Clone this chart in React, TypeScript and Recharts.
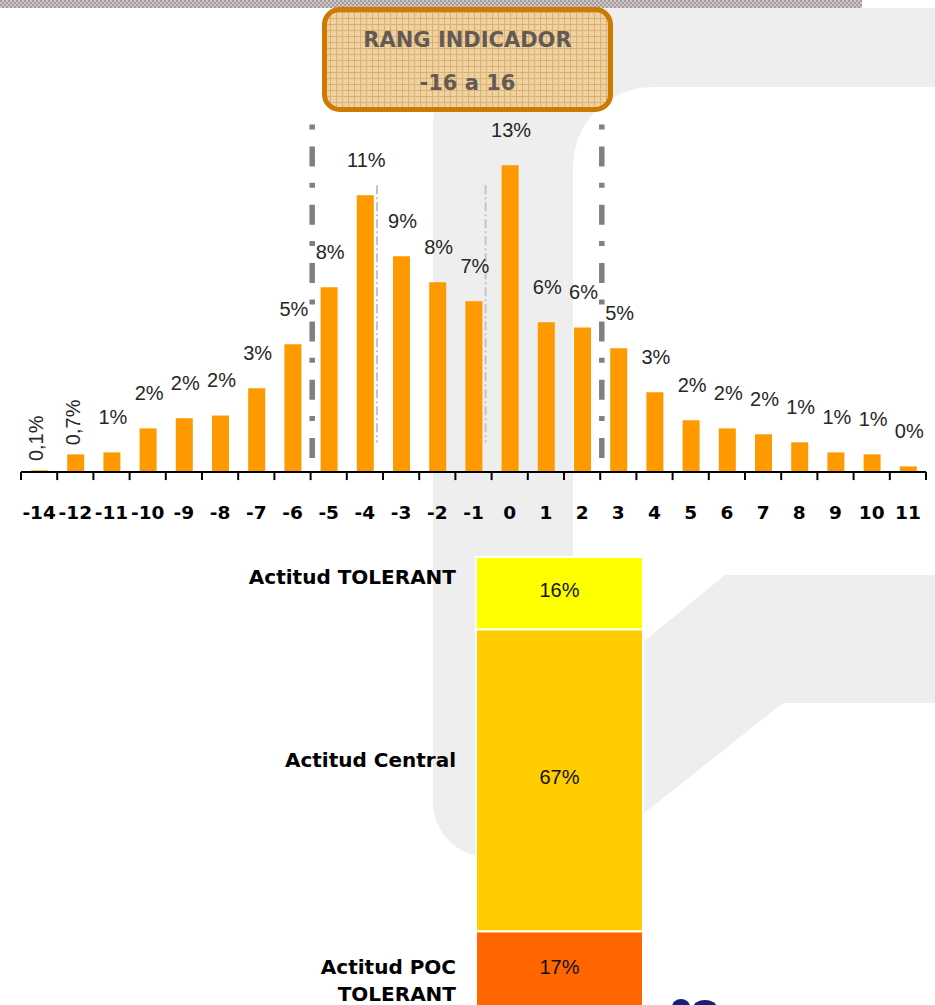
import React from "react";
import { BarChart, Bar, XAxis, YAxis, ReferenceLine, LabelList } from "recharts";

// ---------- data ----------
const categories = ["-14", "-12", "-11", "-10", "-9", "-8", "-7", "-6", "-5", "-4", "-3", "-2", "-1", "0", "1", "2", "3", "4", "5", "6", "7", "8", "9", "10", "11"];
const shares = [0.07, 0.72, 0.8, 1.78, 2.19, 2.31, 3.42, 5.21, 7.54, 11.29, 8.8, 7.74, 6.97, 12.52, 6.11, 5.9, 5.05, 3.25, 2.11, 1.78, 1.54, 1.21, 0.8, 0.72, 0.23];
const shareLabels = ["0,1%", "0,7%", "1%", "2%", "2%", "2%", "3%", "5%", "8%", "11%", "9%", "8%", "7%", "13%", "6%", "6%", "5%", "3%", "2%", "2%", "2%", "1%", "1%", "1%", "0%"];

const attitudeKeys = ["poc", "central", "tolerant"];
const attitudeNames = [["Actitud POC", "TOLERANT"], ["Actitud Central"], ["Actitud TOLERANT"]];
const attitudeValues = [17, 67, 16];
const attitudeLabels = ["17%", "67%", "16%"];

// range markers: thick lines at the start of these categories, thin lines near the end of these
const rangeStarts = ["-5", "3"];
const innerEnds = ["-4", "-1"];

// ---------- derived tables ----------
const distData = categories.map((c, i) => ({ cat: c, v: shares[i], label: shareLabels[i] }));
const attitudeRow: Record<string, any> = { name: "Actitud" };
attitudeKeys.forEach((k, i) => {
  attitudeRow[k] = attitudeValues[i];
  attitudeRow[k + "Label"] = attitudeLabels[i];
});
const attitudeData = [attitudeRow];

// styles
const ORANGE = "#FF9900";
const attitudeColors = ["#FF6600", "#FFCC00", "#FFFF00"];
const attitudeNameDy = [36, 131, 20];
const VALUE_FONT = "'Liberation Sans', Arial, sans-serif";
const BOLD_FONT = "'DejaVu Sans', sans-serif";

const box = (p: any) => {
  const vb = p.viewBox || {};
  return {
    x: p.x ?? vb.x,
    y: p.y ?? vb.y,
    width: p.width ?? vb.width,
    height: p.height ?? vb.height,
  };
};

const ShareLabel = (p: any) => {
  const { x, y, width } = box(p);
  const cx = x + width / 2;
  const value = String(p.value);
  if (value.includes(",")) {
    const cy = y - 32;
    return (
      <text x={cx - 3} y={cy} textAnchor="middle" dominantBaseline="central" fontFamily={VALUE_FONT} fontSize={20} fill="#262626" transform={`rotate(-90 ${cx - 3} ${cy})`}>
        {value}
      </text>
    );
  }
  return (
    <text x={cx + 1} y={y - 35} textAnchor="middle" dominantBaseline="central" fontFamily={VALUE_FONT} fontSize={20} fill="#262626">
      {value}
    </text>
  );
};

const CatTick = (p: any) => (
  <text x={p.x} y={p.y + 40} textAnchor="middle" dominantBaseline="central" fontFamily={BOLD_FONT} fontWeight="bold" fontSize={18.5} fill="#000">
    {p.payload.value}
  </text>
);

// shifted line used for the thin inner markers
const ShiftedLine = (dx: number) => (p: any) => (
  <line x1={p.x1 + dx} y1={p.y1} x2={p.x2 + dx} y2={p.y2} stroke={p.stroke} strokeWidth={p.strokeWidth} strokeDasharray={p.strokeDasharray} />
);

const makeNameLabel = (idx: number) => (p: any) => {
  const { x, y } = box(p);
  const lines = attitudeNames[idx];
  return (
    <text x={x - 20} y={y + attitudeNameDy[idx]} textAnchor="end" dominantBaseline="central" fontFamily={BOLD_FONT} fontWeight="bold" fontSize={20} fill="#000">
      {lines.map((l, i) => (
        <tspan key={i} x={x - 20} dy={i === 0 ? 0 : 27}>
          {l}
        </tspan>
      ))}
    </text>
  );
};

export default function App() {
  return (
    <div style={{ position: "absolute", left: 0, top: 0, width: 935, height: 1005, overflow: "hidden", background: "#fff" }}>
      {/* background watermark */}
      <svg width={935} height={1005} style={{ position: "absolute", left: 0, top: 0 }}>
        <path d="M 433 127 A 120 120 0 0 1 553 8 L 935 8 L 935 87 L 653 87 A 80 80 0 0 0 573 167 L 573 857 L 488 857 A 55 55 0 0 1 433 802 Z" fill="#eeeeee" />
        <path d="M 643 642 L 725 575 L 935 575 L 935 703 L 783 703 L 643 814 Z" fill="#eeeeee" />
      </svg>

      {/* distribution chart */}
      <div style={{ position: "absolute", left: 0, top: 0 }}>
        <BarChart width={935} height={540} data={distData} margin={{ top: 124, right: 9, bottom: 28, left: 21 }}>
          <YAxis hide domain={[0, 14.2]} allowDataOverflow />
          <XAxis
            dataKey="cat"
            interval={0}
            height={40}
            axisLine={{ stroke: "#000", strokeWidth: 2 }}
            tickLine={false}
            tickSize={0}
            tickMargin={0}
            tick={<CatTick />}
          />
          {/* tick marks on category boundaries */}
          {categories.map((c) => (
            <ReferenceLine
              key={"tk" + c}
              segment={[{ x: c, y: 0 }, { x: c, y: -0.33 }]}
              position="start"
              stroke="#000"
              strokeWidth={2}
              ifOverflow="visible"
            />
          ))}
          <ReferenceLine
            segment={[{ x: categories[categories.length - 1], y: 0 }, { x: categories[categories.length - 1], y: -0.33 }]}
            position="end"
            stroke="#000"
            strokeWidth={2}
            ifOverflow="visible"
          />
          {rangeStarts.map((c) => (
            <ReferenceLine
              key={"rs" + c}
              segment={[{ x: c, y: 14.18 }, { x: c, y: 0.49 }]}
              position="start"
              stroke="#808080"
              strokeWidth={5.5}
              strokeDasharray="5 17 20 16.3"
              ifOverflow="visible"
              shape={ShiftedLine(1.6)}
            />
          ))}
          {innerEnds.map((c) => (
            <ReferenceLine
              key={"ie" + c}
              segment={[{ x: c, y: 11.7 }, { x: c, y: 1.2 }]}
              position="end"
              stroke="#c4c4c4"
              strokeWidth={2}
              strokeDasharray="9 3 2 3"
              ifOverflow="visible"
              shape={ShiftedLine(-6)}
            />
          ))}
          <Bar dataKey="v" fill={ORANGE} barSize={17} isAnimationActive={false}>
            <LabelList dataKey="label" content={<ShareLabel />} />
          </Bar>
        </BarChart>
      </div>

      {/* attitude stacked chart */}
      <div style={{ position: "absolute", left: 0, top: 540 }}>
        <BarChart width={935} height={470} data={attitudeData} margin={{ top: 17, right: 292, bottom: 2, left: 476 }} barCategoryGap={0}>
          <XAxis dataKey="name" hide />
          <YAxis hide domain={[0, 100]} />
          {attitudeKeys.map((k, i) => (
            <Bar key={k} dataKey={k} stackId="a" fill={attitudeColors[i]} stroke="#ffffff" strokeWidth={2} isAnimationActive={false}>
              <LabelList dataKey={k + "Label"} position="center" fontFamily={VALUE_FONT} fontSize={20} fill="#111" dy={-3} />
              <LabelList dataKey={k} content={makeNameLabel(i)} />
            </Bar>
          ))}
        </BarChart>
      </div>

      {/* overlay decorations: header strip, range box, logo */}
      <svg width={935} height={1005} style={{ position: "absolute", left: 0, top: 0, pointerEvents: "none" }}>
        <defs>
          <pattern id="stripPat" width={4} height={4} patternUnits="userSpaceOnUse">
            <rect width={4} height={4} fill="#cfc8c8" />
            <rect width={2} height={2} fill="#a59b9b" />
            <rect x={2} y={2} width={2} height={2} fill="#a59b9b" />
          </pattern>
          <pattern id="gridPat" width={6} height={6} patternUnits="userSpaceOnUse">
            <rect width={6} height={6} fill="#efd2a2" />
            <path d="M0 0.5H6M0.5 0V6" stroke="#dcb070" strokeWidth={1} />
          </pattern>
        </defs>
        <rect x={0} y={0} width={862} height={8} fill="url(#stripPat)" />
        <rect x={324.5} y={9.5} width={286} height={100} rx={15} ry={15} fill="url(#gridPat)" stroke="#CC7A00" strokeWidth={5} />
        <text x={467.5} y={40} textAnchor="middle" dominantBaseline="central" fontFamily={BOLD_FONT} fontWeight="bold" fontSize={21} fill="#645a55">
          RANG INDICADOR
        </text>
        <text x={467.5} y={83} textAnchor="middle" dominantBaseline="central" fontFamily={BOLD_FONT} fontWeight="bold" fontSize={21} fill="#645a55">
          -16 a 16
        </text>
        <ellipse cx={681} cy={1007} rx={9} ry={8} fill="#1c1f7a" />
        <ellipse cx={705} cy={1008} rx={12} ry={8} fill="#1c1f7a" />
      </svg>
    </div>
  );
}
